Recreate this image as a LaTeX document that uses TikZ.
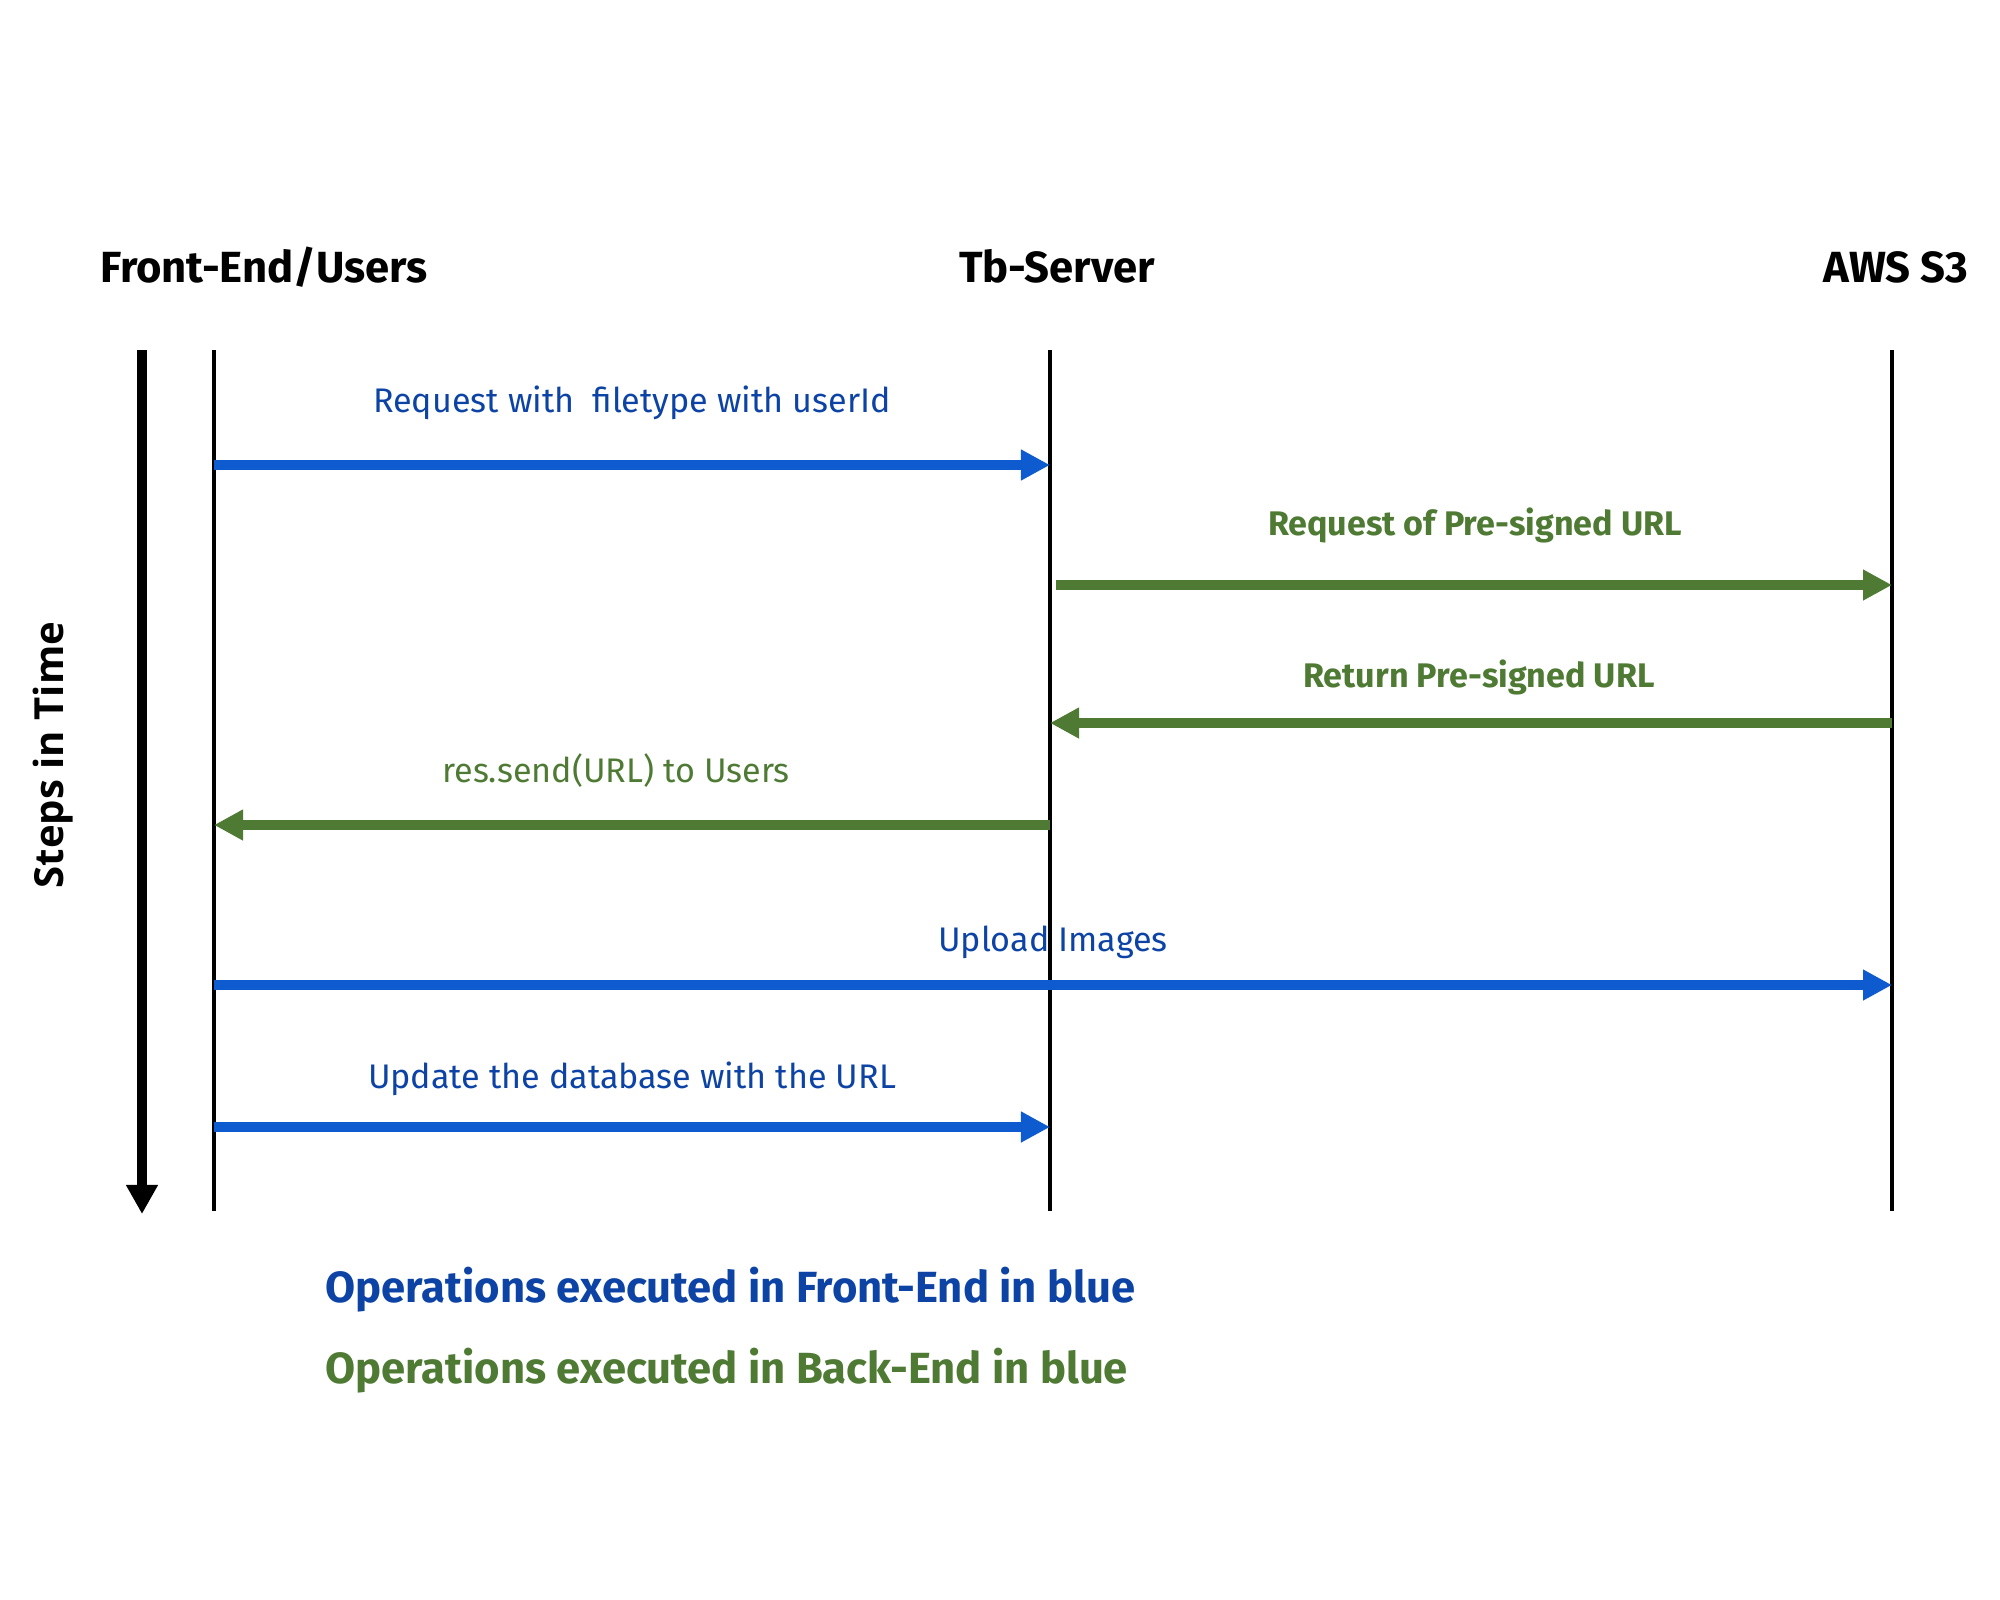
\documentclass[tikz,border=0pt]{standalone}
\usepackage{fontspec}
\setmainfont{Fira Sans}
\newfontfamily\timefont{Open Sans}
\usetikzlibrary{arrows.meta}
\definecolor{msgblue}{HTML}{0E5BD0}
\definecolor{labelblue}{HTML}{0C43A4}
\definecolor{msggreen}{HTML}{4E7A34}

\begin{document}
\begin{tikzpicture}[x=0.01cm,y=-0.01cm,
 lifeline/.style ={-,draw=black,line width=1.1pt},
 front/.style ={-{Triangle[length=0.29cm,width=0.29cm]},draw=msgblue,line width=2.85pt},
 back/.style ={-{Triangle[length=0.29cm,width=0.29cm]},draw=msggreen,line width=2.85pt},
 actor/.style ={anchor=base,font=\fontsize{12.4}{14}\selectfont\bfseries},
 frontlabel/.style ={anchor=base,text=labelblue,font=\fontsize{9.7}{11}\selectfont},
 backlabel/.style ={anchor=base,text=msggreen,font=\fontsize{9.7}{11}\selectfont},
 legend/.style ={anchor=base west,inner sep=0pt,font=\fontsize{12.4}{14}\selectfont\bfseries}
 ]
\useasboundingbox (0,0) rectangle (2000,1600);
%draw actors
\node[actor] (users) at (264,282) {Front-End/Users};
\node[actor] (server) at (1057,282) {Tb-Server};
\node[actor] (s3) at (1896,282) {AWS S3};
%draw lifelines
\coordinate (users top) at (214,350);
\coordinate (users end) at (214,1211);
\coordinate (server top) at (1050,350);
\coordinate (server end) at (1050,1211);
\coordinate (s3 top) at (1892,350);
\coordinate (s3 end) at (1892,1211);
\draw[lifeline] (users top) -- (users end);
\draw[lifeline] (server top) -- (server end);
\draw[lifeline] (s3 top) -- (s3 end);
%draw time axis
\coordinate (time top) at (142,350);
\coordinate (time end) at (142,1214);
\draw[-{Triangle[length=0.29cm,width=0.3cm]},line width=2.85pt] (time top) -- (time end);
\node[anchor=base,rotate=90,font=\timefont\fontsize{11.4}{13}\selectfont\bfseries] (time) at (64,755) {Steps in Time};
%draw message 1
\coordinate (users 1) at (214,465);
\coordinate (server 1) at (1050,465);
\draw[front] (users 1) -- (server 1);
\node[frontlabel] (label 1) at (632,412) {Request with~ filetype with userId};
%draw message 2
\coordinate (server 2) at (1056,585);
\coordinate (s3 2) at (1892,585);
\draw[back] (server 2) -- (s3 2);
\node[backlabel,font=\fontsize{9.7}{11}\selectfont\bfseries] (label 2) at (1475,535) {Request of Pre-signed URL};
%draw message 3
\coordinate (s3 3) at (1892,723);
\coordinate (server 3) at (1050,723);
\draw[back] (s3 3) -- (server 3);
\node[backlabel,font=\fontsize{9.7}{11}\selectfont\bfseries] (label 3) at (1479,687) {Return Pre-signed URL};
%draw message 4
\coordinate (server 4) at (1050,825);
\coordinate (users 4) at (214,825);
\draw[back] (server 4) -- (users 4);
\node[backlabel] (label 4) at (616,782) {res.send(URL) to Users};
%draw message 5
\coordinate (users 5) at (214,985);
\coordinate (s3 5) at (1892,985);
\draw[front] (users 5) -- (s3 5);
\node[frontlabel] (label 5) at (1053,951) {Upload Images};
%draw message 6
\coordinate (users 6) at (214,1127);
\coordinate (server 6) at (1050,1127);
\draw[front] (users 6) -- (server 6);
\node[frontlabel] (label 6) at (632,1088) {Update the database with the URL};
%draw legend
\node[legend,text=labelblue] (legend front) at (325,1302) {Operations executed in Front-End in blue};
\node[legend,text=msggreen] (legend back) at (325,1383) {Operations executed in Back-End in blue};
\end{tikzpicture}
\end{document}
